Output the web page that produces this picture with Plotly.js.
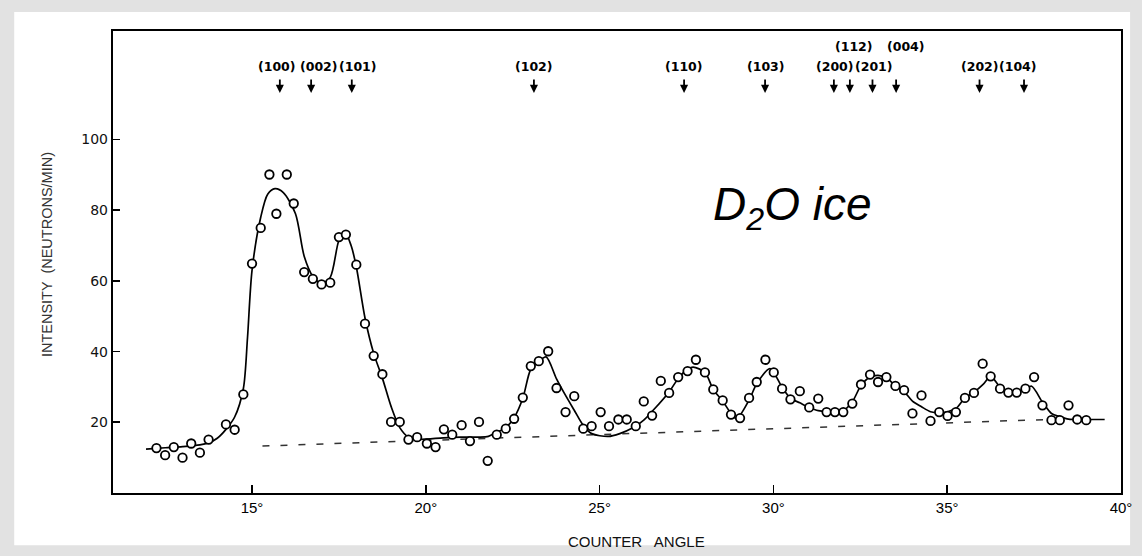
<!DOCTYPE html>
<html>
<head>
<meta charset="utf-8">
<script src="https://cdn.plot.ly/plotly-3.0.1.min.js"></script>
<style>
  html, body { margin: 0; padding: 0; background: #dedede; }
  #chart { width: 1142px; height: 556px; }
</style>
</head>
<body>
<div id="chart"></div>
<script>
// Measured counts (open circles)
const pointAngle = [12.25, 12.5, 12.75, 13.0, 13.25, 13.5, 13.75, 14.25, 14.5, 14.75,
  15.0, 15.25, 15.5, 15.7, 16.0, 16.2, 16.5, 16.75, 17.0, 17.25, 17.5, 17.7, 18.0, 18.25, 18.5, 18.75,
  19.0, 19.25, 19.5, 19.75, 20.03, 20.28, 20.52, 20.76, 21.03, 21.27, 21.53, 21.78, 22.04, 22.3, 22.54, 22.79,
  23.02, 23.25, 23.52, 23.76, 24.02, 24.27, 24.53, 24.77, 25.03, 25.27, 25.54, 25.78, 26.04, 26.27, 26.51, 26.76,
  27.0, 27.26, 27.53, 27.77, 28.03, 28.27, 28.54, 28.78, 29.04, 29.3, 29.52, 29.77, 30.01, 30.25, 30.49, 30.76,
  31.03, 31.29, 31.53, 31.77, 32.01, 32.27, 32.52, 32.78, 33.01, 33.25, 33.51, 33.76, 34.0, 34.26, 34.52, 34.77,
  35.01, 35.25, 35.51, 35.77, 36.02, 36.25, 36.52, 36.76, 37.0, 37.25, 37.5, 37.74, 38.0, 38.24, 38.49, 38.74, 39.0];
const pointCounts = [12.7, 10.7, 13.0, 10.0, 14.0, 11.4, 15.1, 19.4, 17.9, 27.9,
  64.9, 75.0, 90.1, 79.0, 90.1, 81.9, 62.5, 60.6, 59.0, 59.5, 72.4, 73.1, 64.6, 47.9, 38.8, 33.6,
  20.1, 20.1, 15.1, 15.8, 14.0, 13.0, 18.0, 16.5, 19.2, 14.7, 20.1, 9.1, 16.5, 18.2, 21.0, 27.0,
  35.9, 37.3, 40.1, 29.7, 22.9, 27.4, 18.2, 18.9, 22.9, 18.9, 20.8, 20.8, 18.9, 25.9, 21.9, 31.7,
  28.3, 32.8, 34.5, 37.7, 34.1, 29.3, 26.2, 22.2, 21.2, 26.9, 31.4, 37.7, 34.1, 29.5, 26.5, 28.8,
  24.2, 26.7, 22.9, 22.9, 22.9, 25.3, 30.7, 33.5, 31.4, 32.8, 30.3, 29.1, 22.5, 27.6, 20.4, 22.9,
  21.8, 22.9, 26.9, 28.3, 36.6, 33.0, 29.5, 28.4, 28.4, 29.5, 32.8, 24.8, 20.6, 20.6, 24.8, 20.8, 20.6];

// Hand-drawn fitted curve (solid line)
const curveAngle = [11.95, 12.5, 13.0, 13.5, 13.75, 14.0, 14.25, 14.5, 14.75, 14.87, 15.0, 15.25, 15.45, 15.66,
  15.9, 16.25, 16.5, 16.75, 17.0, 17.25, 17.5, 17.67, 17.85, 18.0, 18.25, 18.5, 18.75, 19.0, 19.25, 19.5,
  19.8, 20.5, 21.0, 21.5, 21.8, 22.0, 22.3, 22.54, 22.79, 23.02, 23.25, 23.46, 23.76, 24.02, 24.27, 24.53,
  24.77, 25.25, 25.58, 25.97, 26.27, 26.54, 27.0, 27.26, 27.5, 27.69, 28.03, 28.27, 28.54, 28.78, 28.94,
  29.3, 29.52, 29.9, 30.25, 30.49, 30.76, 31.03, 31.29, 31.77, 32.01, 32.27, 32.52, 32.78, 33.01, 33.25,
  33.51, 33.76, 34.0, 34.26, 34.52, 34.77, 35.01, 35.25, 35.51, 35.77, 36.04, 36.25, 36.52, 36.76, 37.0,
  37.25, 37.43, 37.74, 38.0, 38.24, 38.49, 38.91, 39.53];
const curveCounts = [12.4, 12.8, 13.1, 13.6, 14.2, 15.5, 18.0, 21.5, 29.5, 44, 63, 78, 84.5, 86.1,
  85, 79, 67, 61.3, 59.3, 61, 71.5, 73.8, 70, 64, 49.5, 39.5, 32.5, 24.5, 18.5, 15.8,
  15.2, 15.6, 15.8, 15.8, 16.0, 17.0, 18.5, 21.3, 26.8, 35.0, 37.2, 38.5, 32.3, 27.6, 23.4, 19.1,
  16.8, 16.0, 16.8, 18.5, 20.6, 23.4, 28.6, 32.4, 34.8, 35.6, 34.1, 29.3, 26.0, 22.5, 21.0,
  26.3, 30.9, 35.2, 29.9, 26.8, 25.5, 24.2, 23.3, 22.9, 23.3, 25.8, 30.4, 32.8, 33.3, 32.6,
  30.3, 28.7, 26.0, 24.4, 23.0, 22.7, 23.0, 23.9, 26.9, 28.5, 30.8, 33.0, 30.0, 28.6, 28.6,
  29.5, 30.2, 25.7, 22.5, 21.6, 20.9, 20.8, 20.8];

// Background (dashed)
const baseAngle = [15.3, 38.2];
const baseCounts = [13.3, 20.9];

// Reflection markers
const millerLabels = ['(100)', '(002)', '(101)', '(102)', '(110)', '(103)', '(200)', '(112)', '(201)', '(004)', '(202)', '(104)'];
const millerAngle = [15.80, 16.70, 17.87, 23.11, 27.43, 29.76, 31.74, 32.20, 32.85, 33.53, 35.93, 37.21];
const millerLabelAngle = [15.72, 16.92, 18.05, 23.10, 27.43, 29.79, 31.77, 32.31, 32.89, 33.80, 35.93, 37.04];
const millerUpperRow = [false, false, false, false, false, false, false, true, false, true, false, false];

const xTickVals = [15, 20, 25, 30, 35, 40];
const xTickText = ['15°', '20°', '25°', '30°', '35°', '40°'];
const yTickVals = [20, 40, 60, 80, 100];
const yTickText = ['20', '40', '60', '80', '100'];

const traces = [
  {
    x: baseAngle, y: baseCounts, type: 'scatter', mode: 'lines',
    line: { color: '#333', width: 1.5, dash: '7px,11px' }, hoverinfo: 'skip'
  },
  {
    x: curveAngle, y: curveCounts, type: 'scatter', mode: 'lines',
    line: { color: '#000', width: 1.7, shape: 'spline', smoothing: 0.8 }, hoverinfo: 'skip'
  },
  {
    x: pointAngle, y: pointCounts, type: 'scatter', mode: 'markers',
    marker: { symbol: 'circle', size: 8.5, color: '#fff', line: { color: '#000', width: 1.8 } }
  }
];

const annotations = [];
millerLabels.forEach((lab, i) => {
  annotations.push({
    x: millerLabelAngle[i], xref: 'x', y: millerUpperRow[i] ? 0.9675 : 0.924, yref: 'paper',
    text: '<b>' + lab + '</b>', showarrow: false, xanchor: 'center', yanchor: 'middle',
    font: { family: 'DejaVu Sans', size: 12.5, color: '#000' }
  });
  annotations.push({
    x: millerAngle[i], xref: 'x', y: 0.866, yref: 'paper',
    text: '', showarrow: true, ax: 0, ay: -15, arrowhead: 2, arrowsize: 0.9, arrowwidth: 1.8, arrowcolor: '#000'
  });
});
annotations.push({
  x: 30.56, xref: 'x', y: 0.618, yref: 'paper',
  text: '<i>D<sub>2</sub>O ice</i>', showarrow: false, xanchor: 'center', yanchor: 'middle',
  font: { family: 'Liberation Sans, Arial', size: 46, color: '#000' }
});
annotations.push({
  x: -0.0655, xref: 'paper', y: 0.517, yref: 'paper', textangle: -90,
  text: 'INTENSITY  (NEUTRONS/MIN)', showarrow: false, xanchor: 'center', yanchor: 'middle',
  font: { family: 'Liberation Sans, Arial', size: 14.5, color: '#333' }
});
annotations.push({
  x: 0.519, xref: 'paper', y: -0.105, yref: 'paper',
  text: 'COUNTER   ANGLE', showarrow: false, xanchor: 'center', yanchor: 'middle',
  font: { family: 'Liberation Sans, Arial', size: 15, color: '#111' }
});

const layout = {
  width: 1142, height: 556,
  margin: { l: 113, r: 21, t: 31, b: 63 },
  paper_bgcolor: '#e2e2e2',
  plot_bgcolor: '#ffffff',
  showlegend: false,
  xaxis: {
    range: [11, 40], tickvals: xTickVals, ticktext: xTickText,
    ticks: 'inside', ticklen: 8, tickwidth: 1.6, tickcolor: '#000',
    showline: true, linecolor: '#000', linewidth: 2.2, mirror: true,
    showgrid: false, zeroline: false,
    tickfont: { family: 'Liberation Sans, Arial', size: 15, color: '#000' }
  },
  yaxis: {
    range: [0, 130.7], tickvals: yTickVals, ticktext: yTickText,
    ticks: 'inside', ticklen: 7, tickwidth: 1.6, tickcolor: '#000',
    showline: true, linecolor: '#000', linewidth: 2.2, mirror: true,
    showgrid: false, zeroline: false,
    tickfont: { family: 'DejaVu Sans', size: 14, color: '#111' }
  },
  shapes: [{
    type: 'rect', xref: 'paper', yref: 'paper', layer: 'below',
    x0: -0.098, x1: 1.009, y0: -0.113, y1: 1.041,
    fillcolor: '#ffffff', line: { width: 0 }
  }],
  annotations: annotations
};

Plotly.newPlot('chart', traces, layout, { displayModeBar: false, staticPlot: true });
</script>
</body>
</html>
